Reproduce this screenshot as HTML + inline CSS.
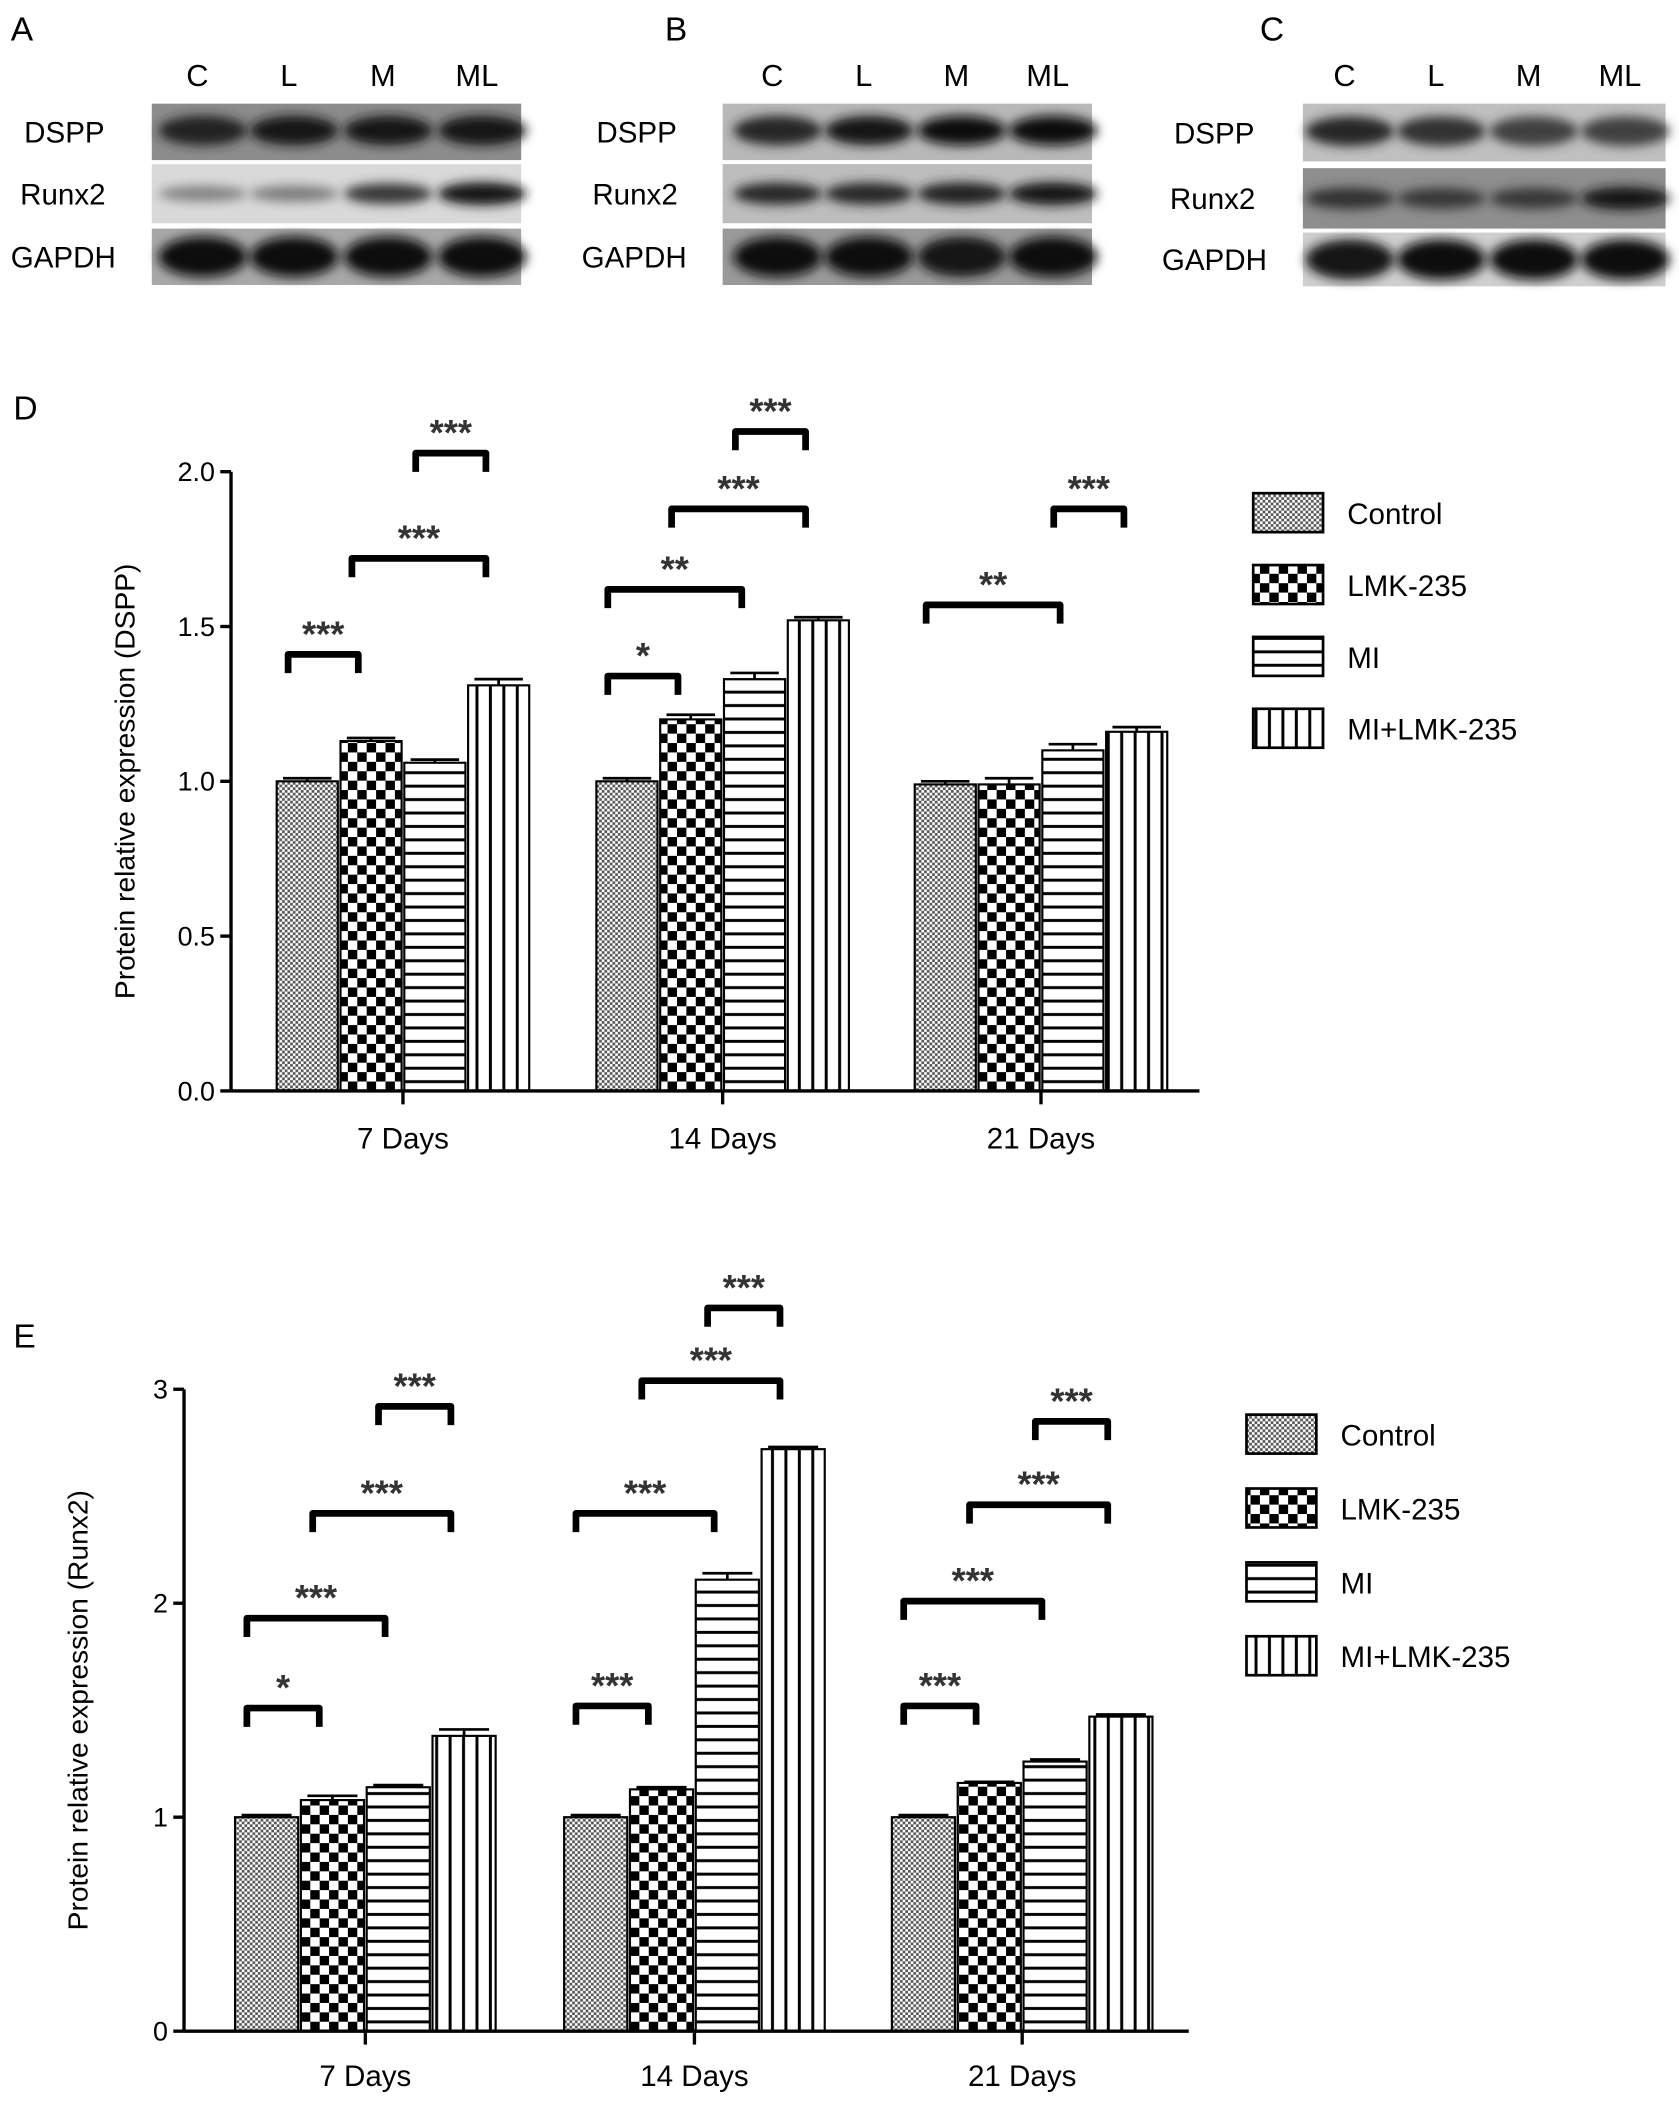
<!DOCTYPE html>
<html><head><meta charset="utf-8">
<style>
html,body{margin:0;padding:0;background:#fff;}
svg{display:block;font-family:"Liberation Sans",Arial,sans-serif;}
</style></head>
<body>
<svg id="fig" width="1679" height="2112" viewBox="0 0 1250 1572" xmlns="http://www.w3.org/2000/svg">
<defs>
  <pattern id="pCtrl" width="4" height="4" patternUnits="userSpaceOnUse">
    <rect width="4" height="4" fill="#fff"/><rect width="2" height="2" fill="#555"/><rect x="2" y="2" width="2" height="2" fill="#555"/>
  </pattern>
  <pattern id="pLmk" width="14" height="14" patternUnits="userSpaceOnUse">
    <rect width="14" height="14" fill="#fff"/><rect width="7" height="7" fill="#000"/><rect x="7" y="7" width="7" height="7" fill="#000"/>
  </pattern>
  <pattern id="pMI" width="10" height="10" patternUnits="userSpaceOnUse">
    <rect width="10" height="10" fill="#fff"/><rect y="4" width="10" height="2.2" fill="#000"/>
  </pattern>
  <pattern id="pML" width="10" height="10" patternUnits="userSpaceOnUse">
    <rect width="10" height="10" fill="#fff"/><rect x="4" width="2.2" height="10" fill="#000"/>
  </pattern>
  <filter id="blur" x="-30%" y="-60%" width="160%" height="220%"><feGaussianBlur stdDeviation="4"/></filter>
</defs>
<g id="blots"></g>
<g id="chartD"></g>
<g id="chartE"></g>
</svg>
<script>
const NS="http://www.w3.org/2000/svg";
function mk(parent,tag,attrs,text){const e=document.createElementNS(NS,tag);for(const k in attrs)e.setAttribute(k,attrs[k]);if(text!==undefined)e.textContent=text;parent.appendChild(e);return e;}

/* ---------------- Chart data ---------------- */
const categories=["7 Days","14 Days","21 Days"];
const seriesNames=["Control","LMK-235","MI","MI+LMK-235"];
const dControl=[1.00,1.00,0.99];
const dLmk=[1.13,1.20,0.99];
const dMI=[1.06,1.33,1.10];
const dML=[1.31,1.52,1.16];
const dErr=[[0.01,0.01,0.01],[0.01,0.015,0.02],[0.01,0.02,0.02],[0.02,0.01,0.015]];
const dTicks=[0.0,0.5,1.0,1.5,2.0];
const dTickLabels=["0.0","0.5","1.0","1.5","2.0"];
// brackets: [category, from series, to series, level, label]
const dBrackets=[[0,0,1,1.41,"***"],[0,1,3,1.72,"***"],[0,2,3,2.06,"***"],
  [1,0,1,1.34,"*"],[1,0,2,1.62,"**"],[1,1,3,1.88,"***"],[1,2,3,2.13,"***"],
  [2,0,2,1.57,"**"],[2,2,3,1.88,"***"]];

const eControl=[1.00,1.00,1.00];
const eLmk=[1.08,1.13,1.16];
const eMI=[1.14,2.11,1.26];
const eML=[1.38,2.72,1.47];
const eErr=[[0.01,0.01,0.01],[0.02,0.01,0.005],[0.01,0.03,0.01],[0.03,0.01,0.01]];
const eTicks=[0,1,2,3];
const eTickLabels=["0","1","2","3"];
const eBrackets=[[0,0,1,1.51,"*"],[0,0,2,1.93,"***"],[0,1,3,2.42,"***"],[0,2,3,2.92,"***"],
  [1,0,1,1.52,"***"],[1,0,2,2.42,"***"],[1,1,3,3.04,"***"],[1,2,3,3.38,"***"],
  [2,0,1,1.52,"***"],[2,0,2,2.01,"***"],[2,1,3,2.46,"***"],[2,2,3,2.85,"***"]];

const fills=["url(#pCtrl)","url(#pLmk)","url(#pMI)","url(#pML)"];

function drawChart(g,cfg){
  const {x0,xEnd,y0,yPerUnit,centers,barW,series,errs,ticks,tickLabels,brackets,yLabel,letter,letterY,legendX,legendY,legendStep,catY}=cfg;
  const yS=v=>y0-v*yPerUnit;
  const xBar=(c,s)=>centers[c]-2*barW+s*barW;
  mk(g,"text",{x:10,y:letterY,"font-size":25,},letter);
  series.forEach((arr,s)=>{
    arr.forEach((v,c)=>{
      const b=mk(g,"rect",{x:xBar(c,s)+1,y:yS(v),width:barW-2,height:y0-yS(v),fill:fills[s],stroke:"#000","stroke-width":1.6});
      
      
      const xc=xBar(c,s)+barW/2, e=errs[s][c];
      const eb=mk(g,"path",{d:`M${xc},${yS(v)} V${yS(v+e)} M${xc-barW*0.38},${yS(v+e)} H${xc+barW*0.38}`,stroke:"#000","stroke-width":2,fill:"none"});
      
      
    });
  });
  mk(g,"line",{x1:x0,y1:y0,x2:xEnd,y2:y0,stroke:"#000","stroke-width":2.5,});
  mk(g,"line",{x1:x0,y1:y0,x2:x0,y2:yS(ticks[ticks.length-1]),stroke:"#000","stroke-width":2.5,});
  ticks.forEach((t,i)=>{
    mk(g,"line",{x1:x0-8,y1:yS(t),x2:x0,y2:yS(t),stroke:"#000","stroke-width":2.5});
    const tl=mk(g,"text",{x:x0-12,y:yS(t)+7,"font-size":20,"text-anchor":"end"},tickLabels[i]);
    
    
  });
  categories.forEach((c,i)=>{
    mk(g,"line",{x1:centers[i],y1:y0,x2:centers[i],y2:y0+10,stroke:"#000","stroke-width":2.5});
    const cl=mk(g,"text",{x:centers[i],y:catY,"font-size":22,"text-anchor":"middle"},c);
    
    
  });
  const yl=mk(g,"text",{x:0,y:0,"font-size":21,"text-anchor":"middle",transform:`translate(${x0-72},${yS((ticks[0]+ticks[ticks.length-1])/2)}) rotate(-90)`},yLabel);
  
  
  brackets.forEach(bk=>{
    const [c,a,b,lvl,lab]=bk;
    const xa=xBar(c,a)+barW*0.2, xb=xBar(c,b)+barW*0.3, y=yS(lvl);
    const p=mk(g,"path",{d:`M${xa},${y+14} V${y} H${xb} V${y+14}`,stroke:"#000","stroke-width":5,fill:"none","stroke-linejoin":"round"});
    
    
    const t=mk(g,"text",{x:(xa+xb)/2,y:y-6,"font-size":27,"text-anchor":"middle","font-weight":"bold",fill:"#333"},lab);
    
    
  });
  seriesNames.forEach((n,i)=>{
    const y=legendY+i*legendStep;
    const r=mk(g,"rect",{x:legendX,y:y,width:52,height:29,fill:fills[i],stroke:"#000","stroke-width":2});
    
    
    const t=mk(g,"text",{x:legendX+70,y:y+23,"font-size":22},n);
    
    
  });
}

drawChart(document.getElementById("chartD"),{
  x0:172,xEnd:893,y0:812,yPerUnit:230.5,centers:[300,538,775],barW:47.5,
  series:[dControl,dLmk,dMI,dML],errs:dErr,ticks:dTicks,tickLabels:dTickLabels,brackets:dBrackets,
  yLabel:"Protein relative expression (DSPP)",letter:"D",letterY:312,
  legendX:933,legendY:367,legendStep:53.5,catY:855});
drawChart(document.getElementById("chartE"),{
  x0:137,xEnd:885,y0:1512,yPerUnit:159.3,centers:[272,517,761],barW:49,
  series:[eControl,eLmk,eMI,eML],errs:eErr,ticks:eTicks,tickLabels:eTickLabels,brackets:eBrackets,
  yLabel:"Protein relative expression (Runx2)",letter:"E",letterY:1003,
  legendX:928,legendY:1053,legendStep:55,catY:1553});

/* ---------------- Western blots ---------------- */
const blotPanels=[
 {letter:"A",lx:8,bx:113,bw:275,labX:[18,15,8],lanes:[147,215,285,355],
  bg:["#8c8c8c","#d9d9d9","#a8a8a8"],rows:[[77,119],[122,166],[170,212]],
  bands:[[0.85,0.9,0.9,0.95],[0.2,0.25,0.7,0.9],[1,1,1,1]]},
 {letter:"B",lx:495,bx:538,bw:275,labX:[444,441,433],lanes:[575,643,712,780],
  bg:["#b8b8b8","#bdbdbd","#9a9a9a"],rows:[[77,119],[122,166],[170,212]],
  bands:[[0.8,0.9,1,1],[0.8,0.8,0.85,0.9],[1,1,0.95,1]]},
 {letter:"C",lx:938,bx:970,bw:270,labX:[874,871,865],lanes:[1001,1069,1138,1206],
  bg:["#c0c0c0","#8e8e8e","#cfcfcf"],rows:[[77,120],[125,170],[173,213]],
  bands:[[0.8,0.75,0.65,0.65],[0.75,0.7,0.7,0.9],[0.9,1,1,1]]}
];
const rowNames=["DSPP","Runx2","GAPDH"];
const laneNames=["C","L","M","ML"];
const bg=document.getElementById("blots");
blotPanels.forEach(p=>{
  const g=mk(bg,"g",{});
  mk(g,"text",{x:p.lx,y:30,"font-size":25,},p.letter);
  p.lanes.forEach((lx,i)=>{
    mk(g,"text",{x:lx,y:64,"font-size":23,"text-anchor":"middle",},laneNames[i]);
  });
  p.rows.forEach((r,ri)=>{
    const [y1,y2]=r;
    mk(g,"rect",{x:p.bx,y:y1,width:p.bw,height:y2-y1,fill:p.bg[ri],});
    mk(g,"text",{x:p.labX[ri],y:(y1+y2)/2+8,"font-size":22,},rowNames[ri]);
    p.lanes.forEach((lx,i)=>{
      const k=p.bands[ri][i];
      const ry=ri==2?15:(ri==1?5+4*k:11);
      const shade=Math.round(10+(1-k)*150);
      mk(g,"ellipse",{cx:lx+4,cy:(y1+y2)/2-(ri==0?1:0),rx:33,ry:ry,fill:`rgb(${shade},${shade},${shade})`,filter:"url(#blur)",});
    });
  });
});
</script>
</body></html>
